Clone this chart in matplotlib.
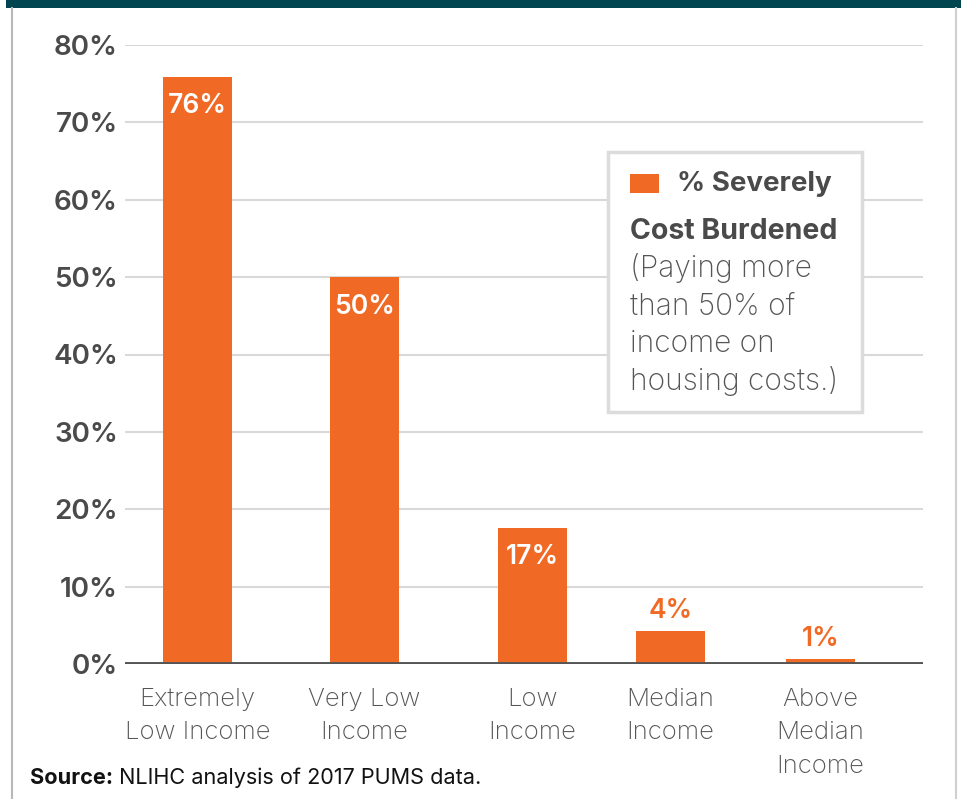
import matplotlib
matplotlib.use("Agg")
import matplotlib.pyplot as plt
from matplotlib.patches import Rectangle
from matplotlib.lines import Line2D

# ---- data ----
categories = ["Extremely\nLow Income", "Very Low\nIncome", "Low\nIncome",
              "Median\nIncome", "Above\nMedian\nIncome"]
values = [75.9, 50.0, 17.6, 4.3, 0.7]
value_labels = ["76%", "50%", "17%", "4%", "1%"]
yticks = [0, 10, 20, 30, 40, 50, 60, 70, 80]
ytick_labels = ["0%", "10%", "20%", "30%", "40%", "50%", "60%", "70%", "80%"]
legend_title = ["% Severely", "Cost Burdened"]
legend_note = ["(Paying more", "than 50% of", "income on", "housing costs.)"]
source_bold = "Source:"
source_text = " NLIHC analysis of 2017 PUMS data."

# ---- layout / style ----
positions = [0, 1, 2.006, 2.832, 3.731]
bar_width = 0.413
ORANGE = "#F06A25"
GRAY_TXT = "#4a4a4a"
FONT = ["Inter", "DejaVu Sans"]
plt.rcParams["font.family"] = FONT

W, H = 962, 799
fig = plt.figure(figsize=(W / 100, H / 100), dpi=100)

def fx(x):
    return x / W

def fy(y):
    return 1 - y / H

# frame: teal band and side borders
fig.add_artist(Rectangle((fx(6), fy(8)), fx(962 - 6), 8 / H, transform=fig.transFigure,
                         facecolor="#00454F", edgecolor="none"))
fig.add_artist(Line2D([fx(12), fx(12)], [fy(8), 0], transform=fig.transFigure,
                      color="#b8b8b8", lw=1.5))
fig.add_artist(Line2D([fx(956), fx(956)], [fy(8), 0], transform=fig.transFigure,
                      color="#d0d0d0", lw=1.5))

ax = fig.add_axes([fx(125), fy(664), fx(923 - 125), (664 - 45) / H])
ax.set_xlim(-0.434, 4.344)
ax.set_ylim(0, 80)
for s in ax.spines.values():
    s.set_visible(False)

for t in yticks[1:]:
    ax.axhline(t, color="#d9d9d9", lw=1.5, zorder=0)
ax.axhline(0, color="#555555", lw=2.8, zorder=3)

bars = ax.bar(positions, values, width=bar_width, color=ORANGE, zorder=2)

for p, v, lab in zip(positions, values, value_labels):
    if v > 10:
        ax.annotate(lab, (p, v), xytext=(0, -12), textcoords="offset points",
                    ha="center", va="top", color="white", fontsize=19, fontweight="semibold")
    else:
        ax.annotate(lab, (p, v), xytext=(0, 5), textcoords="offset points",
                    ha="center", va="bottom", color=ORANGE, fontsize=19, fontweight="semibold")

ax.set_yticks(yticks)
ax.set_yticklabels(ytick_labels, fontsize=20, color=GRAY_TXT, fontweight="semibold")
ax.tick_params(axis="y", length=0, pad=5)

ax.set_xticks(positions)
ax.set_xticklabels(categories, fontsize=18.5, color="#555555", fontweight="light",
                   linespacing=1.6)
ax.tick_params(axis="x", length=0, pad=17)

# legend box
fig.add_artist(Rectangle((fx(608), fy(412)), fx(862 - 608), (412 - 152) / H,
                         transform=fig.transFigure, facecolor="white",
                         edgecolor="#dcdcdc", lw=2.5, zorder=5))
fig.add_artist(Rectangle((fx(630), fy(193)), fx(659 - 630), (193 - 174) / H,
                         transform=fig.transFigure, facecolor=ORANGE,
                         edgecolor="none", zorder=6))
fig.text(fx(677), fy(191), legend_title[0], fontsize=20, fontweight="bold",
         color=GRAY_TXT, va="baseline", ha="left", zorder=6)
fig.text(fx(630), fy(239), legend_title[1], fontsize=20.5, fontweight="bold",
         color=GRAY_TXT, va="baseline", ha="left", zorder=6)
for i, line in enumerate(legend_note):
    fig.text(fx(630), fy(277 + 37.5 * i), line, fontsize=21.5, fontweight="light",
             color="#555555", va="baseline", ha="left", zorder=6)

# source
t1 = fig.text(fx(30), fy(784), source_bold, fontsize=15.6, fontweight="bold",
              color="#111111", va="baseline", ha="left")
fig.canvas.draw()
bb = t1.get_window_extent()
fig.text(bb.x1 / W, fy(784), source_text, fontsize=15.6, color="#111111",
         va="baseline", ha="left")

fig.savefig("out.png", dpi=100)
